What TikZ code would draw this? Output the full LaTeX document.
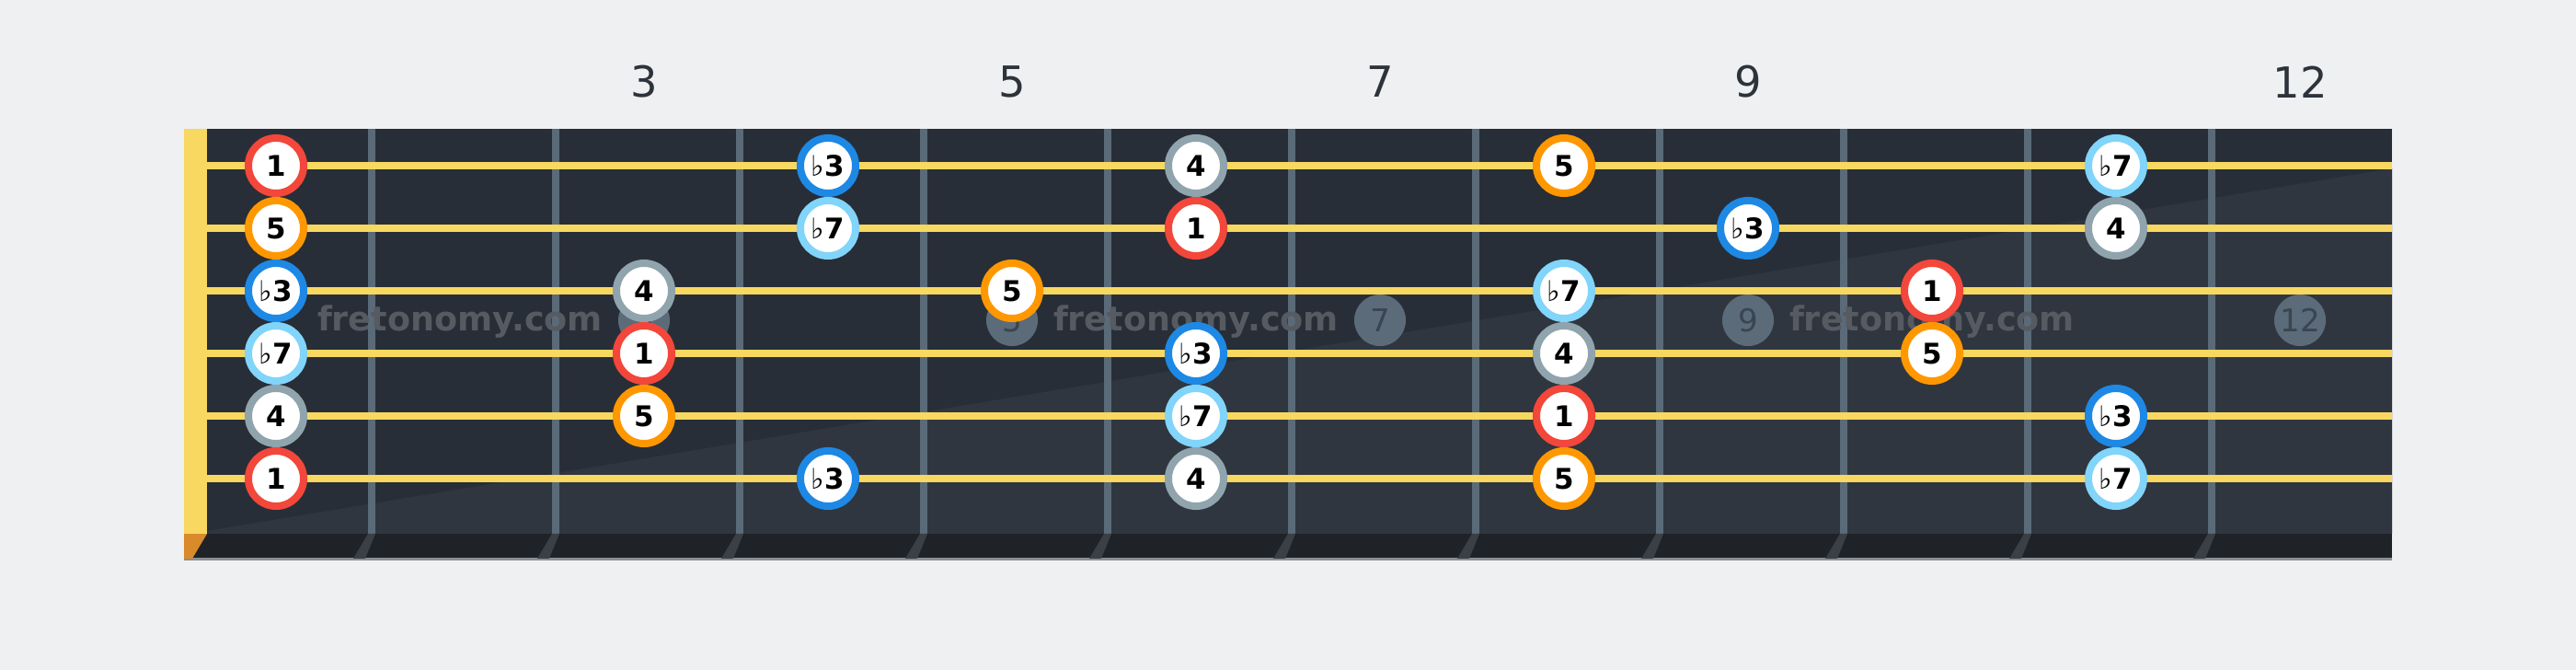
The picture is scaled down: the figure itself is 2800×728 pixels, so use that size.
\documentclass[tikz,border=0pt]{standalone}
\usepackage{fontspec}
\setmainfont{DejaVu Sans}
\definecolor{bgc}{HTML}{EEF0F2}
\definecolor{boardc}{HTML}{282E37}
\definecolor{boardl}{HTML}{30363F}
\definecolor{stripc}{HTML}{1F2327}
\definecolor{fretc}{HTML}{5A6A78}
\definecolor{strc}{HTML}{F8D860}
\definecolor{rootc}{HTML}{F2473A}
\definecolor{fifthc}{HTML}{FF9800}
\definecolor{thirdc}{HTML}{1E88E5}
\definecolor{seventhc}{HTML}{81D4FA}
\definecolor{fourthc}{HTML}{90A4AE}
\definecolor{inlayc}{HTML}{5B6B79}
\definecolor{inlayt}{HTML}{3A4550}
\definecolor{wmc}{HTML}{565A61}
\definecolor{numc}{HTML}{2D333B}
\definecolor{shadc}{HTML}{3A4046}
\definecolor{nutsh}{HTML}{D98A2B}
\definecolor{edgec}{HTML}{8A9096}
\newcommand\fl[1]{{\mdseries\char"266D}#1}
\begin{document}
\begin{tikzpicture}[x=0.01cm,y=-0.01cm,
  notedot/.style={circle, draw=#1, line width=0.08cm, fill=white, minimum size=0.6cm, inner sep=0pt,
    font=\fontsize{8.8}{9}\selectfont\bfseries, text=black},
  inlaydot/.style={circle, fill=inlayc, minimum size=0.56cm, inner sep=0pt,
    font=\fontsize{9.7}{10}\selectfont, text=inlayt},
  fretnum/.style={font=\fontsize{13.2}{14}\selectfont, text=numc},
  wmark/.style={font=\fontsize{10.4}{11}\selectfont\bfseries, text=wmc},
  stringline/.style={draw=strc, line width=0.08cm},
  fretwire/.style={fill=fretc},
  fretshadow/.style={fill=shadc}]
\useasboundingbox (0,0) rectangle (2800,728);
\fill[bgc] (0,0) rectangle (2800,728);
% board
\fill[boardc] (225,140) rectangle (2600,580);
\fill[boardl] (225,577) -- (2600,183) -- (2600,580) -- (225,580) -- cycle;
% bottom strip
\fill[stripc] (200,580) rectangle (2600,608);
\draw[edgec, line width=0.6pt] (200,607.5) -- (2600,607.5);
\fill[nutsh] (200,580) -- (225,580) -- (209,607) -- (200,607) -- cycle;
% nut
\fill[strc] (200,140) rectangle (225,580);
% frets
\foreach \k in {1,...,11}{
  \pgfmathsetmacro\fx{204+200*\k}
  \fill[fretwire] (\fx-4,140) rectangle (\fx+4,580);
  \fill[fretshadow] (\fx-4,580) -- (\fx+4,580) -- (\fx-7,607) -- (\fx-20,607) -- cycle;
}
% inlays
\foreach \c in {3,5,7,9,12}{
  \node[inlaydot] (inl\c) at ({100+200*\c},348) {\c};
}
% strings
\foreach \s in {1,...,6}{
  \coordinate (sa\s) at (225,{180+68*(\s-1)});
  \coordinate (sb\s) at (2600,{180+68*(\s-1)});
  \draw[stringline] (sa\s) -- (sb\s);
}
% watermark
\node[wmark] (wm1) at (500,350) {fretonomy.com};
\node[wmark] (wm2) at (1300,350) {fretonomy.com};
\node[wmark] (wm3) at (2100,350) {fretonomy.com};
% fret numbers
\foreach \c in {3,5,7,9,12}{
  \node[fretnum] (num\c) at ({100+200*\c},89) {\c};
}
% notes
\foreach \s/\c/\t/\col in {
  1/1/1/rootc, 1/4/\fl3/thirdc, 1/6/4/fourthc, 1/8/5/fifthc, 1/11/\fl7/seventhc,
  2/1/5/fifthc, 2/4/\fl7/seventhc, 2/6/1/rootc, 2/9/\fl3/thirdc, 2/11/4/fourthc,
  3/1/\fl3/thirdc, 3/3/4/fourthc, 3/5/5/fifthc, 3/8/\fl7/seventhc, 3/10/1/rootc,
  4/1/\fl7/seventhc, 4/3/1/rootc, 4/6/\fl3/thirdc, 4/8/4/fourthc, 4/10/5/fifthc,
  5/1/4/fourthc, 5/3/5/fifthc, 5/6/\fl7/seventhc, 5/8/1/rootc, 5/11/\fl3/thirdc,
  6/1/1/rootc, 6/4/\fl3/thirdc, 6/6/4/fourthc, 6/8/5/fifthc, 6/11/\fl7/seventhc}{
  \node[notedot=\col] (n\s-\c) at ({100+200*\c},{180+68*(\s-1)}) {\t};
}
\end{tikzpicture}
\end{document}
